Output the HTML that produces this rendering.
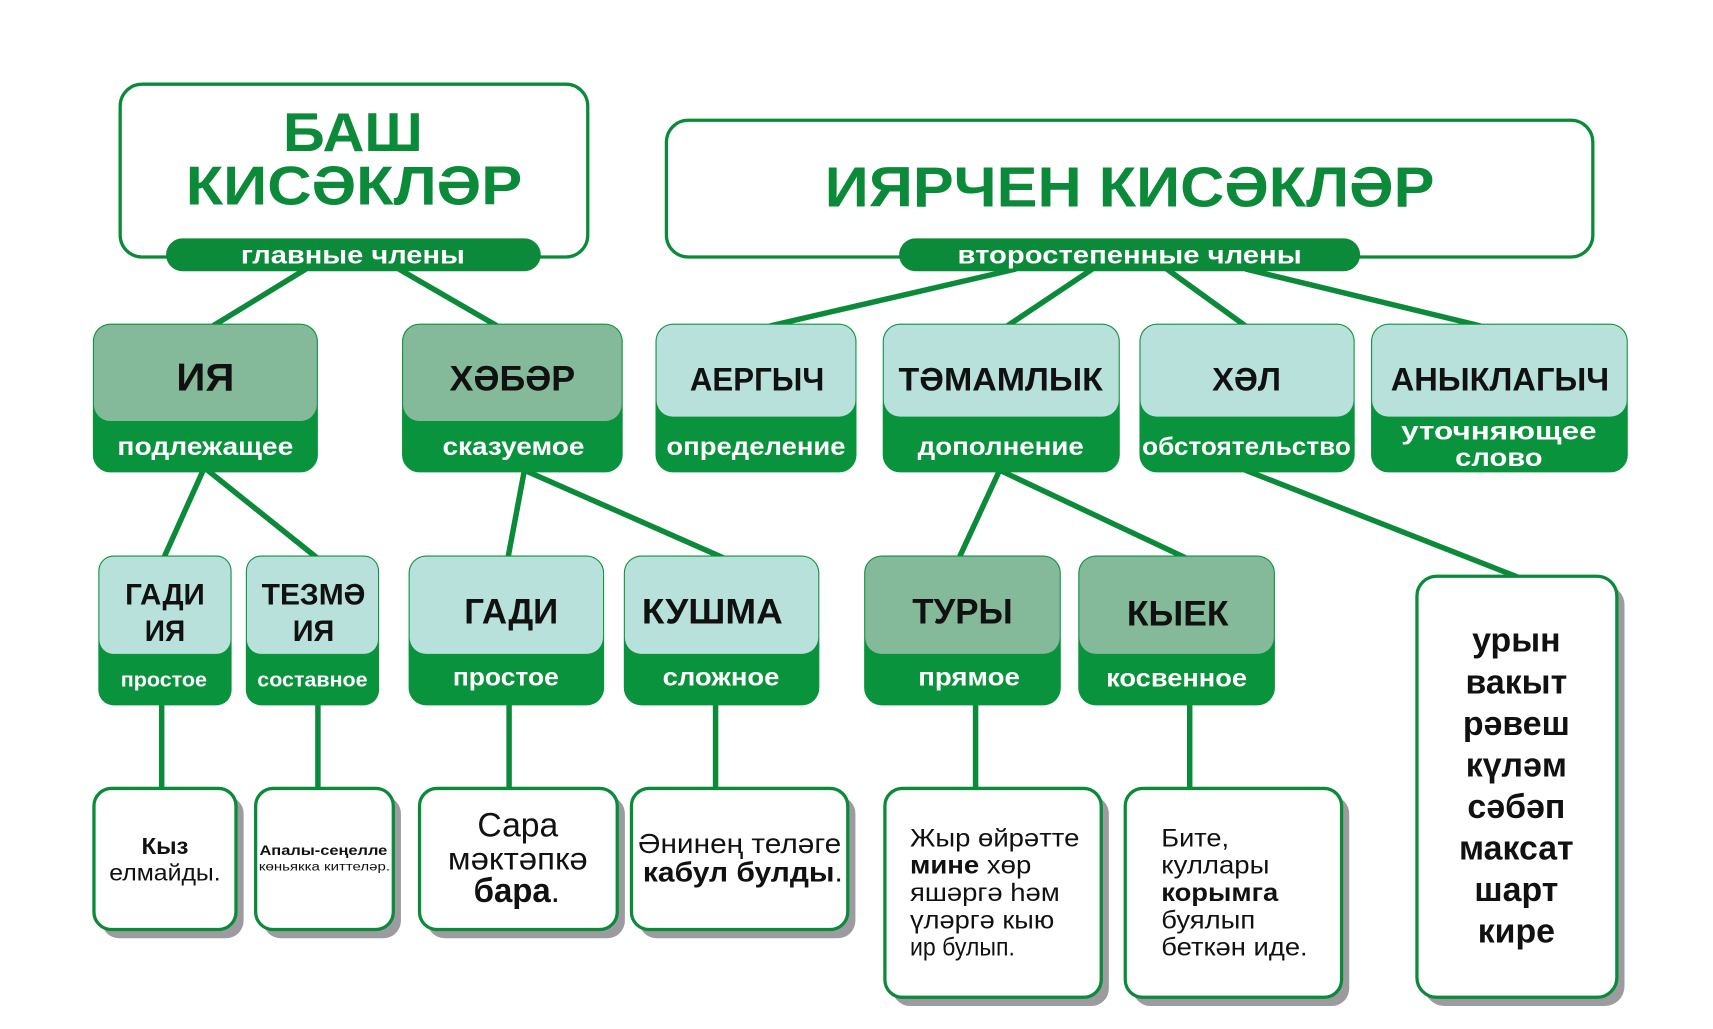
<!DOCTYPE html>
<html><head><meta charset="utf-8"><style>html,body{margin:0;padding:0;background:#fff}svg{display:block}</style></head><body>
<svg width="1713" height="1029" viewBox="0 0 1568 941" preserveAspectRatio="none" xmlns="http://www.w3.org/2000/svg" font-family="'Liberation Sans', 'DejaVu Sans', sans-serif">
<defs><style>
.ln{stroke:#0b8a3a;stroke-width:5;fill:none}
.t{font-weight:bold;fill:#111}
.w{font-weight:bold;fill:#fff}
.g{font-weight:bold;fill:#0b8a3a}
.b{fill:#111}
</style></defs>
<g class="ln">
<line x1="280" y1="246" x2="195" y2="298"/><line x1="365" y1="246" x2="455" y2="298"/>
<line x1="930" y1="246" x2="705" y2="298"/><line x1="1000" y1="246" x2="922" y2="298"/>
<line x1="1068" y1="246" x2="1140" y2="298"/><line x1="1140" y1="246" x2="1355" y2="298"/>
<line x1="186" y1="430" x2="150" y2="510"/><line x1="190" y1="430" x2="290" y2="510"/>
<line x1="480" y1="430" x2="465" y2="510"/><line x1="480" y1="430" x2="662" y2="510"/>
<line x1="915" y1="430" x2="878" y2="510"/><line x1="915" y1="430" x2="1085" y2="510"/>
<line x1="1140" y1="430" x2="1390" y2="528"/>
<line x1="148" y1="644" x2="148" y2="722"/><line x1="291" y1="644" x2="291" y2="722"/>
<line x1="466" y1="644" x2="466" y2="722"/><line x1="655" y1="644" x2="655" y2="722"/>
<line x1="893" y1="644" x2="893" y2="722"/><line x1="1089" y1="644" x2="1089" y2="722"/>
</g>
<rect x="110" y="77" width="428" height="158" rx="20" fill="#fff" stroke="#0b8a3a" stroke-width="3"/>
<text x="323" y="138" class="g" font-size="50" text-anchor="middle" textLength="128" lengthAdjust="spacingAndGlyphs">БАШ</text>
<text x="324" y="187" class="g" font-size="50" text-anchor="middle" textLength="308" lengthAdjust="spacingAndGlyphs">КИСӘКЛӘР</text>
<rect x="152" y="218" width="343" height="30" rx="15" fill="#0b8a3a"/>
<text x="323" y="241" class="w" font-size="23" text-anchor="middle" textLength="205" lengthAdjust="spacingAndGlyphs">главные члены</text>
<rect x="610" y="110" width="848" height="125" rx="20" fill="#fff" stroke="#0b8a3a" stroke-width="3"/>
<text x="1034" y="189" class="g" font-size="52" text-anchor="middle" textLength="558" lengthAdjust="spacingAndGlyphs">ИЯРЧЕН КИСӘКЛӘР</text>
<rect x="823" y="218" width="422" height="30" rx="15" fill="#0b8a3a"/>
<text x="1034" y="241" class="w" font-size="23" text-anchor="middle" textLength="315" lengthAdjust="spacingAndGlyphs">второстепенные члены</text>
<g>
<rect x="85" y="296" width="206" height="136" rx="16" fill="#0a933d"/><rect x="86" y="297" width="204" height="88" rx="15" fill="#84b999"/>
<text x="188" y="357" class="t" font-size="36" text-anchor="middle" textLength="53" lengthAdjust="spacingAndGlyphs">ИЯ</text>
<text x="188" y="416" class="w" font-size="23" text-anchor="middle" textLength="161" lengthAdjust="spacingAndGlyphs">подлежащее</text>
<rect x="368" y="296" width="202" height="136" rx="16" fill="#0a933d"/><rect x="369" y="297" width="200" height="88" rx="15" fill="#84b999"/>
<text x="469" y="357" class="t" font-size="32" text-anchor="middle" textLength="115" lengthAdjust="spacingAndGlyphs">ХӘБӘР</text>
<text x="470" y="416" class="w" font-size="23" text-anchor="middle" textLength="130" lengthAdjust="spacingAndGlyphs">сказуемое</text>
<rect x="600" y="296" width="184" height="136" rx="16" fill="#0a933d"/><rect x="601" y="297" width="182" height="84" rx="15" fill="#b9e1dc"/>
<text x="693" y="357" class="t" font-size="30" text-anchor="middle" textLength="123" lengthAdjust="spacingAndGlyphs">АЕРГЫЧ</text>
<text x="692" y="416" class="w" font-size="23" text-anchor="middle" textLength="164" lengthAdjust="spacingAndGlyphs">определение</text>
<rect x="808" y="296" width="217" height="136" rx="16" fill="#0a933d"/><rect x="809" y="297" width="215" height="84" rx="15" fill="#b9e1dc"/>
<text x="916" y="357" class="t" font-size="30" text-anchor="middle" textLength="187" lengthAdjust="spacingAndGlyphs">ТӘМАМЛЫК</text>
<text x="916" y="416" class="w" font-size="23" text-anchor="middle" textLength="152" lengthAdjust="spacingAndGlyphs">дополнение</text>
<rect x="1043" y="296" width="197" height="136" rx="16" fill="#0a933d"/><rect x="1044" y="297" width="195" height="84" rx="15" fill="#b9e1dc"/>
<text x="1141" y="357" class="t" font-size="30" text-anchor="middle" textLength="63" lengthAdjust="spacingAndGlyphs">ХӘЛ</text>
<text x="1141" y="416" class="w" font-size="23" text-anchor="middle" textLength="191" lengthAdjust="spacingAndGlyphs">обстоятельство</text>
<rect x="1255" y="296" width="235" height="136" rx="16" fill="#0a933d"/><rect x="1256" y="297" width="233" height="84" rx="15" fill="#b9e1dc"/>
<text x="1373" y="357" class="t" font-size="30" text-anchor="middle" textLength="200" lengthAdjust="spacingAndGlyphs">АНЫКЛАГЫЧ</text>
<text x="1372" y="402" class="w" font-size="23" text-anchor="middle" textLength="179" lengthAdjust="spacingAndGlyphs">уточняющее</text>
<text x="1372" y="426" class="w" font-size="23" text-anchor="middle" textLength="80" lengthAdjust="spacingAndGlyphs">слово</text>
</g>
<g>
<rect x="90" y="508" width="122" height="137" rx="14" fill="#0a933d"/><rect x="91" y="509" width="120" height="89" rx="13" fill="#b9e1dc"/>
<text x="151" y="553" class="t" font-size="27" text-anchor="middle" textLength="73" lengthAdjust="spacingAndGlyphs">ГАДИ</text>
<text x="151" y="586" class="t" font-size="27" text-anchor="middle" textLength="37" lengthAdjust="spacingAndGlyphs">ИЯ</text>
<text x="150" y="628" class="w" font-size="19" text-anchor="middle" textLength="79" lengthAdjust="spacingAndGlyphs">простое</text>
<rect x="225" y="508" width="122" height="137" rx="14" fill="#0a933d"/><rect x="226" y="509" width="120" height="89" rx="13" fill="#b9e1dc"/>
<text x="287" y="553" class="t" font-size="27" text-anchor="middle" textLength="95" lengthAdjust="spacingAndGlyphs">ТЕЗМӘ</text>
<text x="287" y="586" class="t" font-size="27" text-anchor="middle" textLength="38" lengthAdjust="spacingAndGlyphs">ИЯ</text>
<text x="286" y="628" class="w" font-size="19" text-anchor="middle" textLength="101" lengthAdjust="spacingAndGlyphs">составное</text>
<rect x="374" y="508" width="179" height="137" rx="16" fill="#0a933d"/><rect x="375" y="509" width="177" height="89" rx="15" fill="#b9e1dc"/>
<text x="468" y="570" class="t" font-size="32" text-anchor="middle" textLength="86" lengthAdjust="spacingAndGlyphs">ГАДИ</text>
<text x="463" y="627" class="w" font-size="23" text-anchor="middle" textLength="97" lengthAdjust="spacingAndGlyphs">простое</text>
<rect x="571" y="508" width="179" height="137" rx="16" fill="#0a933d"/><rect x="572" y="509" width="177" height="89" rx="15" fill="#b9e1dc"/>
<text x="652" y="570" class="t" font-size="32" text-anchor="middle" textLength="129" lengthAdjust="spacingAndGlyphs">КУШМА</text>
<text x="660" y="627" class="w" font-size="23" text-anchor="middle" textLength="107" lengthAdjust="spacingAndGlyphs">сложное</text>
<rect x="791" y="508" width="180" height="137" rx="16" fill="#0a933d"/><rect x="792" y="509" width="178" height="89" rx="15" fill="#84b999"/>
<text x="881" y="570" class="t" font-size="32" text-anchor="middle" textLength="92" lengthAdjust="spacingAndGlyphs">ТУРЫ</text>
<text x="887" y="627" class="w" font-size="23" text-anchor="middle" textLength="93" lengthAdjust="spacingAndGlyphs">прямое</text>
<rect x="987" y="508" width="180" height="137" rx="16" fill="#0a933d"/><rect x="988" y="509" width="178" height="89" rx="15" fill="#84b999"/>
<text x="1078" y="572" class="t" font-size="32" text-anchor="middle" textLength="93" lengthAdjust="spacingAndGlyphs">КЫЕК</text>
<text x="1077" y="628" class="w" font-size="23" text-anchor="middle" textLength="129" lengthAdjust="spacingAndGlyphs">косвенное</text>
</g>
<g fill="#9c9ca0">
<rect x="93" y="728" width="130" height="130" rx="16"/><rect x="241" y="728" width="126" height="130" rx="16"/>
<rect x="391" y="728" width="181" height="130" rx="16"/><rect x="585" y="728" width="198" height="130" rx="16"/>
<rect x="817" y="728" width="198" height="192" rx="16"/><rect x="1037" y="728" width="198" height="192" rx="16"/>
<rect x="1304" y="535" width="183" height="385" rx="18"/>
</g>
<g fill="#fff" stroke="#0b8a3a" stroke-width="3">
<rect x="86" y="721" width="130" height="129" rx="16"/><rect x="234" y="721" width="126" height="129" rx="16"/>
<rect x="384" y="721" width="181" height="129" rx="16"/><rect x="578" y="721" width="198" height="129" rx="16"/>
<rect x="810" y="721" width="198" height="191" rx="16"/><rect x="1030" y="721" width="198" height="191" rx="16"/>
<rect x="1297" y="527" width="183" height="385" rx="18"/>
</g>
<text x="151" y="781" class="t" font-size="21" text-anchor="middle" textLength="43" lengthAdjust="spacingAndGlyphs">Кыз</text>
<text x="151" y="805" class="b" font-size="21" text-anchor="middle" textLength="102" lengthAdjust="spacingAndGlyphs">елмайды.</text>
<text x="296" y="782" class="t" font-size="13" text-anchor="middle" textLength="117" lengthAdjust="spacingAndGlyphs">Апалы-сеңелле</text>
<text x="297" y="796" class="b" font-size="11" text-anchor="middle" textLength="120" lengthAdjust="spacingAndGlyphs">көньякка киттеләр.</text>
<text x="474" y="765" class="b" font-size="31" text-anchor="middle" textLength="74" lengthAdjust="spacingAndGlyphs">Сара</text>
<text x="474" y="795" class="b" font-size="29" text-anchor="middle" textLength="128" lengthAdjust="spacingAndGlyphs">мәктәпкә</text>
<text x="473" y="825" class="t" font-size="31" text-anchor="middle" textLength="79" lengthAdjust="spacingAndGlyphs">бара<tspan font-weight="normal">.</tspan></text>
<text x="677" y="780" class="b" font-size="25" text-anchor="middle" textLength="186" lengthAdjust="spacingAndGlyphs">Әнинең теләге</text>
<text x="680" y="806" class="t" font-size="25" text-anchor="middle" textLength="183" lengthAdjust="spacingAndGlyphs">кабул булды<tspan font-weight="normal">.</tspan></text>
<g class="b" font-size="23">
<text x="833" y="774" textLength="155" lengthAdjust="spacingAndGlyphs">Жыр өйрәтте</text>
<text x="833" y="799" textLength="111" lengthAdjust="spacingAndGlyphs"><tspan font-weight="bold">мине</tspan> хөр</text>
<text x="833" y="824" textLength="137" lengthAdjust="spacingAndGlyphs">яшәргә һәм</text>
<text x="833" y="849" textLength="132" lengthAdjust="spacingAndGlyphs">үләргә кыю</text>
<text x="833" y="874" textLength="96" lengthAdjust="spacingAndGlyphs">ир булып.</text>
<text x="1063" y="774" textLength="62" lengthAdjust="spacingAndGlyphs">Бите,</text>
<text x="1063" y="799" textLength="99" lengthAdjust="spacingAndGlyphs">куллары</text>
<text x="1063" y="824" font-weight="bold" textLength="107" lengthAdjust="spacingAndGlyphs">корымга</text>
<text x="1063" y="849" textLength="86" lengthAdjust="spacingAndGlyphs">буялып</text>
<text x="1063" y="874" textLength="134" lengthAdjust="spacingAndGlyphs">беткән иде.</text>
</g>
<g class="t" font-size="31" text-anchor="middle">
<text x="1388" y="596">урын</text><text x="1388" y="634">вакыт</text><text x="1388" y="672">рәвеш</text>
<text x="1388" y="710">күләм</text><text x="1388" y="748">сәбәп</text><text x="1388" y="786">максат</text>
<text x="1388" y="824">шарт</text><text x="1388" y="862">кире</text>
</g>
</svg>
</body></html>
